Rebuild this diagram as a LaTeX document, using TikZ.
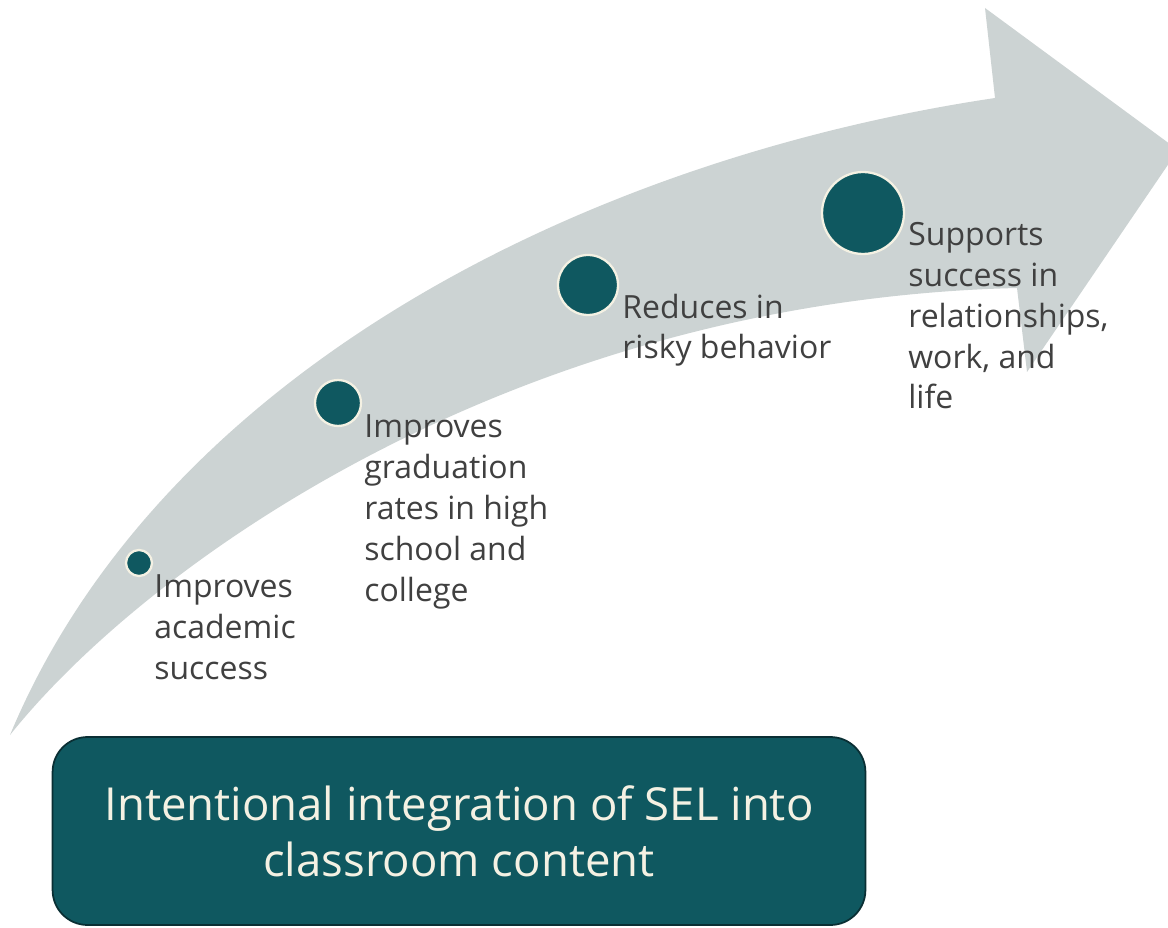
\documentclass[tikz,border=0pt]{standalone}
\usepackage{fontspec}
\setmainfont{Open Sans}
\definecolor{arrowgray}{HTML}{CCD3D3}
\definecolor{selteal}{HTML}{0F5860}
\definecolor{ringcream}{HTML}{F4F1E3}
\definecolor{labelgray}{HTML}{404040}
\definecolor{boxedge}{HTML}{0A2F34}
\begin{document}
\begin{tikzpicture}[
  x=0.02cm, y=-0.02cm,
  dot/.style={circle,fill=selteal,draw=ringcream,line width=1.3pt,inner sep=0pt},
  lbl/.style={anchor=base west,align=left,inner sep=0pt,text=labelgray,
    font=\fontsize{18.2}{23.3}\selectfont},
  goal/.style={rounded corners=0.7cm,fill=selteal,draw=boxedge,line width=1pt,
    text=ringcream,align=center,minimum width=16.26cm,minimum height=3.76cm,
    font=\fontsize{25.9}{32}\selectfont},
]
  \useasboundingbox (0,0) rectangle (1168,928);
  \clip (0,0) rectangle (1168,928);

  % curved arrow
  \fill[arrowgray] (10,735) .. controls (160,375) and (580,160) .. (995,98)
    -- (985,8) -- (1178,150) -- (1027,372) -- (1017,288)
    .. controls (520,300) and (150,560) .. (10,735) -- cycle;

  \node[dot,minimum size=0.52cm] (d1) at (139,563) {};
  \node[dot,minimum size=0.92cm] (d2) at (338,403) {};
  \node[dot,minimum size=1.2cm]  (d3) at (588,285) {};
  \node[dot,minimum size=1.64cm] (d4) at (863,213) {};

  % base = last line
  \node[lbl] (t1) at (154,679) {Improves\\academic\\success};
  \node[lbl] (t2) at (364,601) {Improves\\graduation\\rates in high\\school and\\college};
  \node[lbl] (t3) at (622,359) {Reduces in\\risky behavior};
  \node[lbl] (t4) at (908,409) {Supports\\success in\\relationships,\\work, and\\life};

  \node[goal] (sel) at (459,831) {Intentional integration of SEL into\\classroom content};
\end{tikzpicture}
\end{document}
